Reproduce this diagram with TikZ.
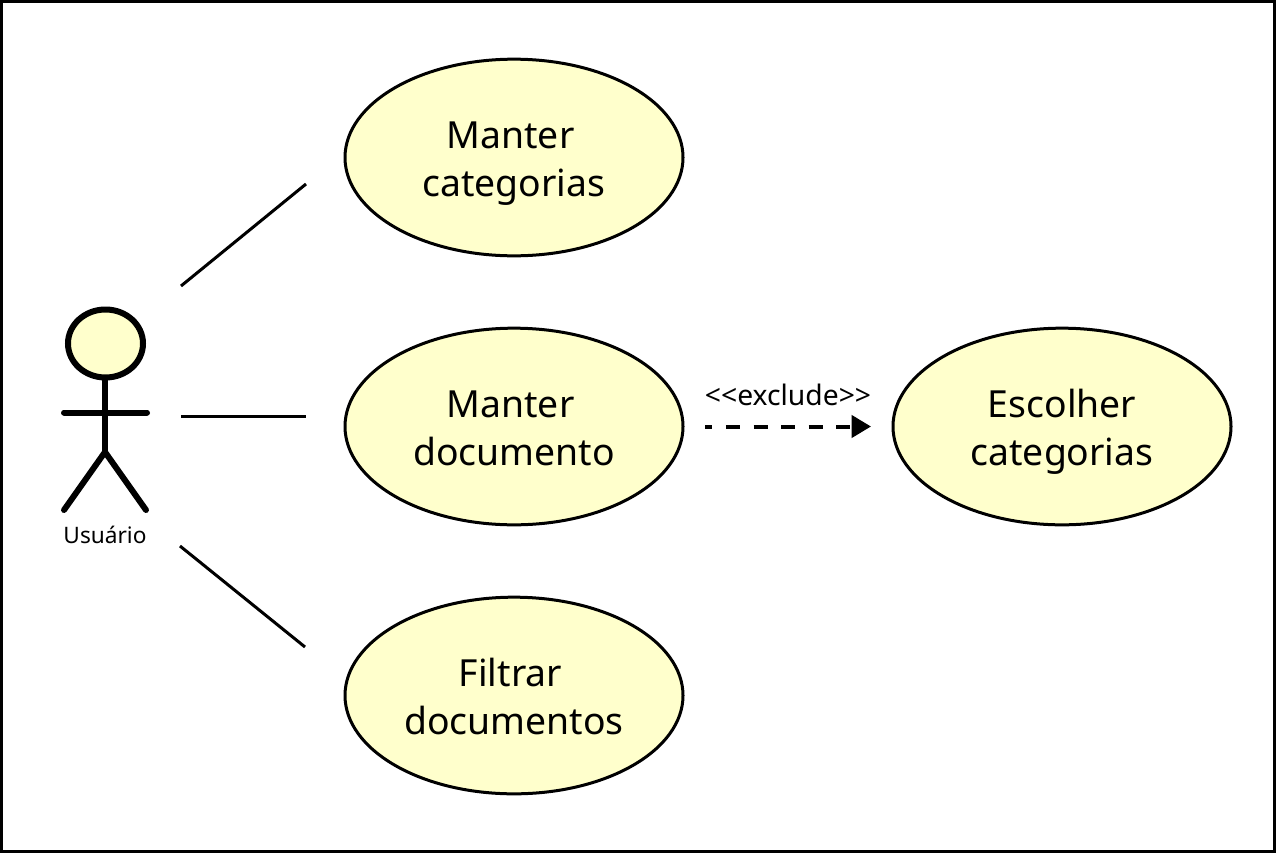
\documentclass[tikz,border=0pt]{standalone}
\usepackage{fontspec}
\setmainfont{Noto Sans}
\usetikzlibrary{arrows.meta,shapes.geometric}
\definecolor{usecasefill}{HTML}{FFFFCC}
\newcommand{\toprow}{\rule{0pt}{34pt}}
\newcommand{\rowgap}{\kern5.25pt}
\tikzset{
	usecase/.style={draw,ellipse,line width=2.25pt,fill=usecasefill,minimum width=253.5pt,minimum height=147.5pt,inner sep=0pt,align=center,font=\fontsize{28pt}{36pt}\selectfont},
	actorline/.style={line width=4.5pt,line cap=round},
	assoc/.style={line width=2.25pt}
}
\begin{document}
\begin{tikzpicture}[x=0.75pt,y=-0.75pt]
	\useasboundingbox (0,0) rectangle (1276,853);
	\draw[line width=2.25pt] (1.5,1.5) rectangle (1274.5,851.5);
	% use cases
	\node[usecase] (categorias) at (514,157.5) {\toprow Manter\rowgap\\categorias\strut};
	\node[usecase] (documento) at (514,426.5) {\toprow Manter\rowgap\\documento\strut};
	\node[usecase] (filtrar) at (514,695.5) {\toprow Filtrar\rowgap\\documentos\strut};
	\node[usecase] (escolher) at (1062,426.5) {\toprow Escolher\\categorias\strut};
	% actor
	\draw[actorline,fill=usecasefill] (105.5,343.5) ellipse [x radius=37.5,y radius=34];
	\coordinate (neck) at (105,378);
	\coordinate (hip) at (105,452);
	\draw[actorline] (neck) -- (hip);
	\draw[actorline] (64,412.5) -- (147,412.5);
	\draw[actorline] (hip) -- (64,510);
	\draw[actorline] (hip) -- (146,510);
	\node[font=\fontsize{17pt}{20pt}\selectfont] (usuario) at (105,535) {Usuário};
	% associations
	\coordinate (a1) at (181,286);
	\coordinate (b1) at (306,184);
	\coordinate (a2) at (181,416);
	\coordinate (b2) at (306,416);
	\coordinate (a3) at (180,546);
	\coordinate (b3) at (305,647);
	\draw[assoc] (a1) -- (b1);
	\draw[assoc] (a2) -- (b2);
	\draw[assoc] (a3) -- (b3);
	% exclude
	\coordinate (c1) at (705,426.5);
	\coordinate (c2) at (871,426.5);
	\draw[line width=3pt,dash pattern=on 10.5pt off 10.2pt,dash phase=5pt,-{Triangle[length=14.5pt,width=16.5pt]}] (c1) -- (c2);
	\node[font=\fontsize{21.2pt}{24pt}\selectfont] (exclude) at (788,395) {{<}{<}exclude{>}{>}};
\end{tikzpicture}
\end{document}
